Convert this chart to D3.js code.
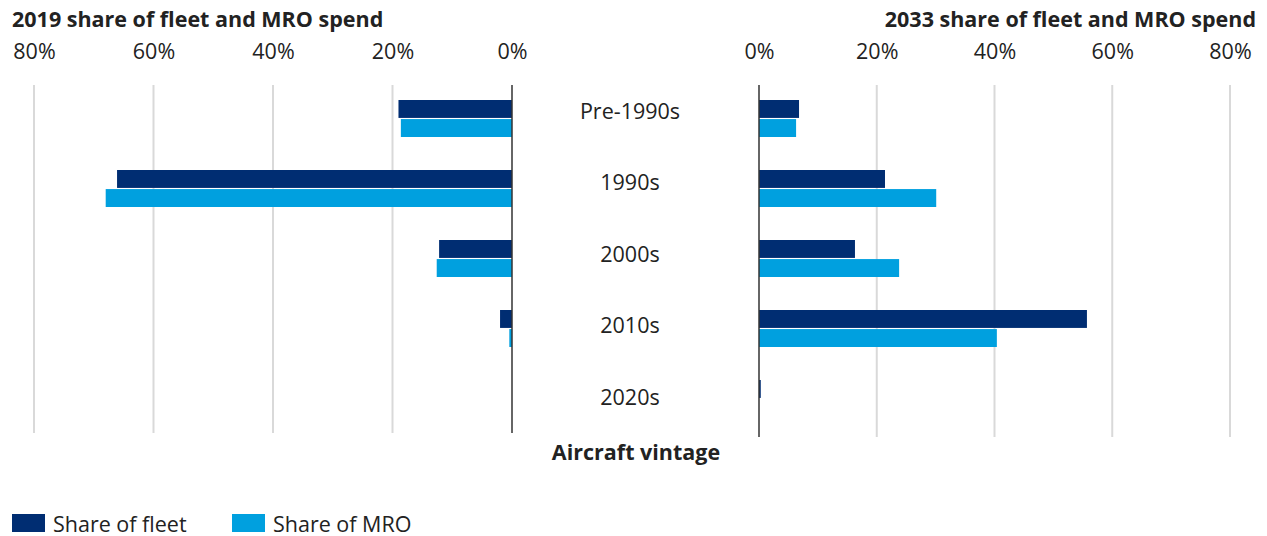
<!DOCTYPE html>
<html>
<head>
<meta charset="utf-8">
<script src="https://cdn.jsdelivr.net/npm/d3@7"></script>
<style>
  body { margin: 0; background: #fff; }
  text { font-family: "Open Sans", "Noto Sans", sans-serif; fill: #222; }
</style>
</head>
<body>
<div id="container"></div>
<script>
/* CONSTANTS AND GLOBALS */
const width = 1267, height = 536
const fontSize = "21.5px"

// DATA (shares in %)
const vintages = ["Pre-1990s", "1990s", "2000s", "2010s", "2020s"]
const fleet2019 = [19.0, 66.1, 12.2, 2.0, 0]
const mro2019 = [18.6, 68.0, 12.6, 0.45, 0]
const fleet2033 = [6.8, 21.4, 16.3, 55.7, 0.3]
const mro2033 = [6.3, 30.1, 23.8, 40.4, 0]
const tickValues = [0, 20, 40, 60, 80]
const seriesNames = ["Share of fleet", "Share of MRO"]
const colors = ["#002d72", "#00a0df"]

const svg = d3.select("#container")
  .append("svg")
  .attr("width", width)
  .attr("height", height)

// SCALES
const xLeft = d3.scaleLinear().domain([0, 80]).range([512, 34])
const xRight = d3.scaleLinear().domain([0, 80]).range([759, 1230])

const yBand = d3.scaleBand().domain(vintages).range([85, 435])
const ySub = d3.scaleBand().domain(["fleet", "mro"]).range([15, 52]).paddingInner(0.06)
const yLabel = d3.scalePoint().domain(vintages).range([110, 396])

// GRIDLINES
svg.append("g")
  .selectAll("line")
  .data(tickValues.filter(d => d > 0))
  .join("line")
  .attr("x1", d => xLeft(d)).attr("x2", d => xLeft(d))
  .attr("y1", 85).attr("y2", 433)
  .attr("stroke", "#d9d9d9").attr("stroke-width", 2)

svg.append("g")
  .selectAll("line")
  .data(tickValues.filter(d => d > 0))
  .join("line")
  .attr("x1", d => xRight(d)).attr("x2", d => xRight(d))
  .attr("y1", 85).attr("y2", 437)
  .attr("stroke", "#d9d9d9").attr("stroke-width", 2)

// BARS
const rows = vintages.map((v, i) => ({
  v, f19: fleet2019[i], m19: mro2019[i], f33: fleet2033[i], m33: mro2033[i]
}))

const drawSide = (x, key, sub, color, left) => {
  svg.append("g")
    .selectAll("rect")
    .data(rows)
    .join("rect")
    .attr("x", d => left ? x(d[key]) : x(0))
    .attr("y", d => yBand(d.v) + ySub(sub))
    .attr("width", d => Math.abs(x(d[key]) - x(0)))
    .attr("height", ySub.bandwidth())
    .attr("fill", color)
}
drawSide(xLeft, "f19", "fleet", colors[0], true)
drawSide(xLeft, "m19", "mro", colors[1], true)
drawSide(xRight, "f33", "fleet", colors[0], false)
drawSide(xRight, "m33", "mro", colors[1], false)

// ZERO LINES
svg.append("line")
  .attr("x1", xLeft(0)).attr("x2", xLeft(0))
  .attr("y1", 85).attr("y2", 433)
  .attr("stroke", "#333").attr("stroke-width", 1.5)
svg.append("line")
  .attr("x1", xRight(0)).attr("x2", xRight(0))
  .attr("y1", 85).attr("y2", 437)
  .attr("stroke", "#333").attr("stroke-width", 1.5)

// AXES (tick labels on top)
const fmt = d => d + "%"
const leftAxis = svg.append("g")
  .attr("transform", "translate(0, 59)")
  .call(d3.axisTop(xLeft).tickValues(tickValues).tickFormat(fmt).tickSize(0).tickPadding(0))
const rightAxis = svg.append("g")
  .attr("transform", "translate(0, 59)")
  .call(d3.axisTop(xRight).tickValues(tickValues).tickFormat(fmt).tickSize(0).tickPadding(0))
;[leftAxis, rightAxis].forEach(a => {
  a.select(".domain").remove()
  a.selectAll("text")
    .style("font-family", "'Open Sans', 'Noto Sans', sans-serif")
    .style("font-size", fontSize)
    .attr("fill", "#222")
})

// TITLES
svg.append("text")
  .attr("x", 12).attr("y", 27)
  .style("font-size", fontSize).style("font-weight", "bold")
  .text("2019 share of fleet and MRO spend")
svg.append("text")
  .attr("x", 1256).attr("y", 27)
  .attr("text-anchor", "end")
  .style("font-size", fontSize).style("font-weight", "bold")
  .text("2033 share of fleet and MRO spend")

// CATEGORY LABELS
svg.append("g")
  .selectAll("text")
  .data(vintages)
  .join("text")
  .attr("x", 630)
  .attr("y", d => yLabel(d))
  .attr("text-anchor", "middle")
  .attr("dominant-baseline", "central")
  .style("font-size", fontSize)
  .text(d => d)

svg.append("text")
  .attr("x", 636).attr("y", 451)
  .attr("text-anchor", "middle")
  .attr("dominant-baseline", "central")
  .style("font-size", fontSize).style("font-weight", "bold")
  .text("Aircraft vintage")

// LEGEND
const legend = svg.append("g")
  .selectAll("g")
  .data(seriesNames)
  .join("g")
  .attr("transform", (d, i) => `translate(${12 + i * 220}, 514)`)
legend.append("rect")
  .attr("width", 33).attr("height", 18)
  .attr("fill", (d, i) => colors[i])
legend.append("text")
  .attr("x", 41).attr("y", 9)
  .attr("dominant-baseline", "central")
  .style("font-size", fontSize)
  .text(d => d)
</script>
</body>
</html>
